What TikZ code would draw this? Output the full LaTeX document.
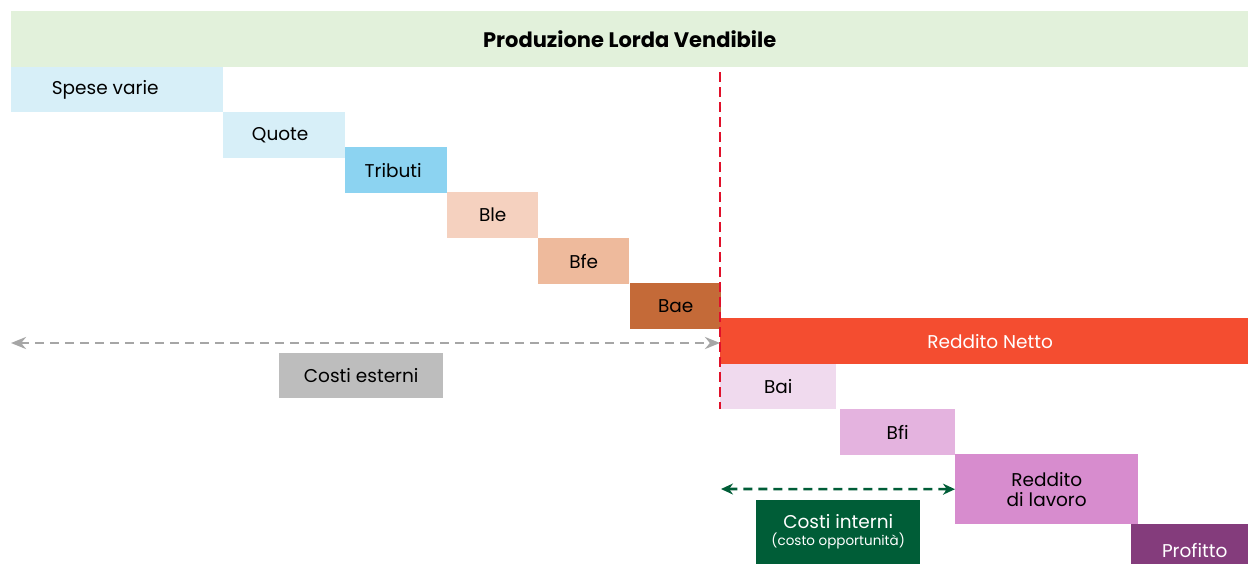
\documentclass[tikz,border=0pt]{standalone}
\usepackage{fontspec}
\setmainfont{Poppins}
\usetikzlibrary{arrows.meta}
\definecolor{cTop}{HTML}{E2F1DB}
\definecolor{cLB}{HTML}{D7EFF8}
\definecolor{cTrib}{HTML}{8CD3F1}
\definecolor{cBle}{HTML}{F5D1BF}
\definecolor{cBfe}{HTML}{EEBA9C}
\definecolor{cBae}{HTML}{C46A38}
\definecolor{cRN}{HTML}{F44D30}
\definecolor{cBai}{HTML}{F0DAEE}
\definecolor{cBfi}{HTML}{E4B3DF}
\definecolor{cRL}{HTML}{D78CCE}
\definecolor{cProf}{HTML}{843C7C}
\definecolor{cCI}{HTML}{005D37}
\definecolor{cCE}{HTML}{BDBDBD}
\definecolor{cDash}{HTML}{E0102A}
\definecolor{cGrayArr}{HTML}{A6A6A6}
\begin{document}
\begin{tikzpicture}[x=1pt,y=-1pt,
  box/.style={rectangle, inner sep=0pt, anchor=north west, text=black,
    font=\fontsize{18.5}{22}\selectfont, align=center},
  wbox/.style={box, text=white}]
\useasboundingbox (0,0) rectangle (1248,563);
\fill[white] (0,0) rectangle (1248,563);
\node[box, fill=cTop, minimum width=1237pt, minimum height=56pt,
  font=\fontsize{21}{24}\selectfont\bfseries] (top) at (11,11) {Produzione Lorda Vendibile};
\node[box, fill=cLB, minimum width=212pt, minimum height=45pt] (spese) at (11,67) {Spese varie\hspace*{24pt}};
\node[box, fill=cLB, minimum width=122pt, minimum height=46pt] (quote) at (223,112) {Quote\hspace*{8pt}};
\node[box, fill=cTrib, minimum width=102pt, minimum height=46pt] (trib) at (345,147) {Tributi\hspace*{6pt}};
\node[box, fill=cBle, minimum width=91pt, minimum height=46pt] (ble) at (447,192) {Ble};
\node[box, fill=cBfe, minimum width=91pt, minimum height=46pt] (bfe) at (538,238) {Bfe};
\node[box, fill=cBae, minimum width=91pt, minimum height=46pt] (bae) at (630,283) {Bae};
\node[wbox, fill=cRN, minimum width=528pt, minimum height=46pt] (rn) at (720,318) {\hspace*{12pt}Reddito Netto};
\node[box, fill=cBai, minimum width=116pt, minimum height=45pt] (bai) at (720,364) {Bai};
\node[box, fill=cBfi, minimum width=115pt, minimum height=46pt] (bfi) at (840,409) {Bfi};
\node[box, fill=cRL, minimum width=183pt, minimum height=70pt] (rl) at (955,454) {Reddito\\[-2pt]di lavoro};
\node[wbox, fill=cProf, minimum width=117pt, minimum height=52pt] (prof) at (1131,524) {\hspace*{10pt}Profitto};
\node[wbox, fill=cCI, minimum width=164pt, minimum height=64pt] (ci) at (756,500)
  {Costi interni\\[-5pt]{\fontsize{13.5}{15}\selectfont (costo opportunità)}};
\node[box, fill=cCE, minimum width=164pt, minimum height=45pt] (ce) at (279,353) {Costi esterni};
% red dashed divider
\coordinate (dtop) at (720,72);
\coordinate (dbot) at (720,409);
\draw[cDash, line width=2.8pt, dash pattern=on 10pt off 5pt] (dtop) -- (dbot);
% gray arrow
\coordinate (gl) at (11,343);
\coordinate (gr) at (720,343);
\draw[cGrayArr, line width=2.6pt, dash pattern=on 9pt off 6pt,
  {Stealth[length=15pt,width=12pt]}-{Stealth[length=15pt,width=12pt]}] (gl) -- (gr);
% green arrow
\coordinate (il) at (721,489);
\draw[cCI, line width=2.6pt, dash pattern=on 9pt off 6pt,
  {Stealth[length=12pt,width=11pt]}-{Stealth[length=12pt,width=11pt]}] (il) -- (rl.west);
\end{tikzpicture}
\end{document}
